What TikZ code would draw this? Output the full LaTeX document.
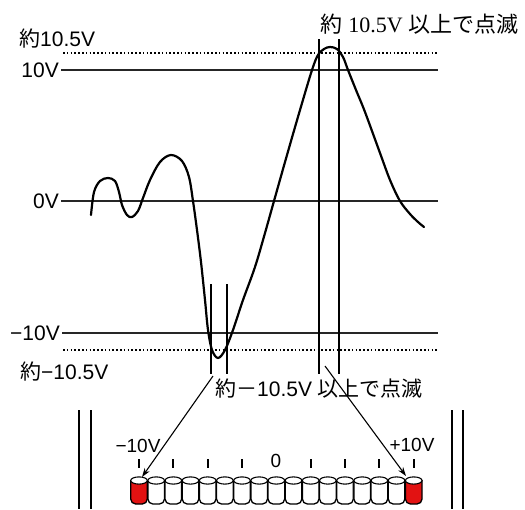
\documentclass[tikz,border=0pt]{standalone}
\usepackage{fontspec}
\setmainfont{Liberation Sans}
\newfontfamily\jp{Noto Sans CJK JP}
\newfontfamily\sernum{Liberation Serif}
\usetikzlibrary{arrows.meta}
\definecolor{ledred}{RGB}{226,18,18}
\begin{document}
\begin{tikzpicture}[x=1pt,y=-1pt,
  lbl/.style={font=\fontsize{21}{23}\selectfont, inner sep=0pt},
  axlbl/.style={font=\fontsize{21}{23}\selectfont, inner sep=0pt, inner xsep=2pt, anchor=east},
  hline/.style={line width=1.8pt, black!85},
  dotline/.style={line width=1.8pt, dash pattern=on 1.6pt off 2.2pt},
  vline/.style={line width=1.8pt},
  wave/.style={line width=2.2pt, line join=round, line cap=round},
  ptr/.style={line width=1.1pt, -{Stealth[length=9pt,width=6pt]}},
  tickmark/.style={line width=2pt},
  ledlbl/.style={font=\fontsize{19}{20}\selectfont, inner sep=0pt},
  frame/.style={line width=1.8pt}]
\useasboundingbox (0,0) rectangle (525,509);

% level labels and lines
\node[lbl, anchor=base west] (a105) at (19,46) {{\jp 約}10.5V};
\node[axlbl] (a10) at (61,70) {10V};
\node[axlbl] (a0) at (61,201) {0V};
\node[axlbl] (am10) at (62,333) {−10V};
\node[lbl, anchor=base west] (am105) at (20,379) {{\jp 約}−10.5V};

\coordinate (d1s) at (63,53);  \coordinate (d1e) at (438,53);
\coordinate (d2s) at (63,350); \coordinate (d2e) at (438,350);
\coordinate (l10e) at (438,70);
\coordinate (l0e) at (438,201);
\coordinate (lm10e) at (438,333);

\draw[dotline] (d1s) -- (d1e);
\draw[dotline] (d2s) -- (d2e);
\draw[hline] (a10.east) -- (l10e);
\draw[hline] (a0.east) -- (l0e);
\draw[hline] (am10.east) -- (lm10e);

% marker verticals
\coordinate (v1t) at (319,39);  \coordinate (v1b) at (319,374);
\coordinate (v2t) at (339,39);  \coordinate (v2b) at (339,374);
\coordinate (v3t) at (211,284); \coordinate (v3b) at (211,374);
\coordinate (v4t) at (227,284); \coordinate (v4b) at (227,374);
\draw[vline] (v1t) -- (v1b);
\draw[vline] (v2t) -- (v2b);
\draw[vline] (v3t) -- (v3b);
\draw[vline] (v4t) -- (v4b);

% waveform
\draw[wave] plot[smooth, tension=0.55] coordinates {
 (91,215) (94,192) (100,181) (108,178) (115,181) (119,192) (122,205)
 (127,215) (132,217) (138,211) (143,198) (150,180) (160,162) (171,155)
 (182,161) (189,177) (193,201) (197,230) (201,262) (205,300) (208,330)
 (212,350) (218,358) (225,350) (233,330) (243,300) (255,267) (265,233)
 (274,201) (287,155) (300,110) (312,70) (318,55) (324,49) (330,47)
 (337,49) (343,57) (348,70) (356,90) (365,112) (380,153) (390,180)
 (400,201) (410,214) (418,222) (424,227)};

% texts
\node[lbl, font=\fontsize{22}{24}\selectfont, anchor=base west] (top) at (320,32) {{\jp 約} {\sernum 10.5V} {\jp 以上で点滅}};
\node[lbl, anchor=base west] (bot) at (215,396) {{\jp 約－}10.5V {\jp 以上で点滅}};

% frame double lines
\coordinate (f1t) at (79,410);  \coordinate (f1b) at (79,509);
\coordinate (f2t) at (91,410);  \coordinate (f2b) at (91,509);
\coordinate (f3t) at (452,410); \coordinate (f3b) at (452,509);
\coordinate (f4t) at (463,410); \coordinate (f4b) at (463,509);
\draw[frame] (f1t) -- (f1b);
\draw[frame] (f2t) -- (f2b);
\draw[frame] (f3t) -- (f3b);
\draw[frame] (f4t) -- (f4b);

% LED bar
\foreach \k in {0,...,16}{
  \pgfmathsetmacro\cx{139+17.17*\k}
  \pgfmathparse{(\k==0 || \k==16) ? "ledred" : "white"}
  \let\fc\pgfmathresult
  \draw[line width=1.3pt, fill=\fc, rounded corners=5pt]
     (\cx-8.3,480) -- (\cx-8.3,504) -- (\cx+8.3,504) -- (\cx+8.3,480);
  \draw[line width=1.1pt, fill=white] (\cx,480.5) ellipse (8.3 and 3.6);
  \coordinate (led\k) at (\cx,477);
}
\foreach \k in {0,2,4,6,10,12,14,16}{
  \pgfmathsetmacro\cx{139+17.17*\k}
  \draw[tickmark] (\cx,459) -- (\cx,468);
}
\node[ledlbl] (lm) at (138,446) {−10V};
\node[ledlbl] (lz) at (276,461) {0};
\node[ledlbl] (lp) at (412,445) {+10V};

% pointers
\coordinate (s1) at (213,376); \coordinate (t1) at (142,477);
\coordinate (s2) at (325,366); \coordinate (t2) at (406,476);
\draw[ptr] (s1) -- (t1);
\draw[ptr] (s2) -- (t2);
\end{tikzpicture}
\end{document}
